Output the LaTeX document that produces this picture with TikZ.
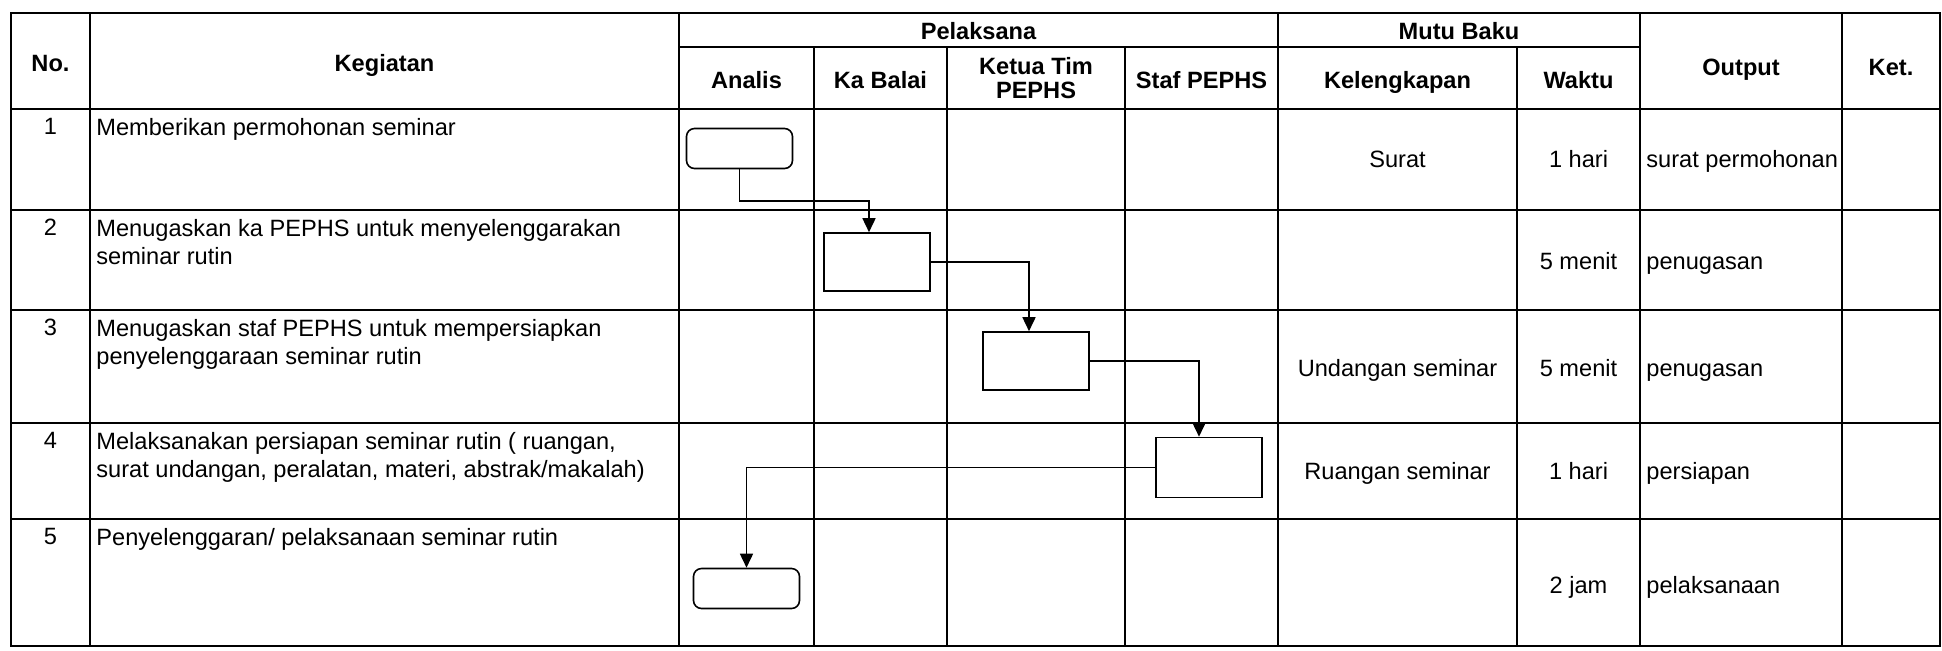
\documentclass[tikz,border=0pt]{standalone}
\usepackage{fontspec}
\setmainfont{Liberation Sans}
\usepackage{tikz}
\usetikzlibrary{arrows,arrows.meta,calc}

\begin{document}
\begin{tikzpicture}[x=0.5pt, y=-0.5pt, >={Triangle[length=7pt,width=6.5pt]}, font=\fontsize{11.8}{14.2}\selectfont]
\tikzstyle{every node}=[inner sep=0pt]
\tikzstyle{hdr}=[font=\fontsize{11.8}{14.2}\selectfont\bfseries, anchor=base]
\tikzstyle{txt}=[anchor=base]
\tikzstyle{ltxt}=[anchor=base west]
\tikzstyle{keg}=[anchor=north west, align=left]
\tikzstyle{proc}=[draw, line width=0.8pt, minimum width=53pt, minimum height=29pt]
\tikzstyle{terminal}=[proc, rounded corners=4pt, minimum height=20pt]
\tikzstyle{flow}=[->, line width=0.8pt]
\tikzstyle{tabline}=[line width=1.3pt]
\useasboundingbox (0,0) rectangle (1942,650);

% table
\draw[tabline] (11,13) rectangle (1940,646);
\foreach \y in {109,210,310,423,519} \draw[tabline] (11,\y) -- (1940,\y);
\draw[tabline] (679,47) -- (1640,47);
\foreach \x in {90,679,1278,1640,1842} \draw[tabline] (\x,13) -- (\x,646);
\foreach \x in {814,947,1125,1517} \draw[tabline] (\x,47) -- (\x,646);

% header
\node[hdr] (hno)   at (50.5,71)   {No.};
\node[hdr] (hkeg)  at (384.5,71)  {Kegiatan};
\node[hdr] (hpel)  at (978.5,39)  {Pelaksana};
\node[hdr] (hmutu) at (1459,39)   {Mutu Baku};
\node[hdr] (han)   at (746.5,88) {Analis};
\node[hdr] (hka)   at (880.5,88) {Ka Balai};
\node[hdr, anchor=center, align=center] (hketua) at (1036,78) {Ketua Tim\\[-2.6pt]PEPHS};
\node[hdr] (hstaf) at (1201.5,88) {Staf PEPHS};
\node[hdr] (hkel)  at (1397.5,88) {Kelengkapan};
\node[hdr] (hwak)  at (1578.5,88) {Waktu};
\node[hdr] (hout)  at (1741,75.5) {Output};
\node[hdr] (hket)  at (1891,75.5) {Ket.};

% row 1
\node[txt]  (no1)  at (50.5,134.5) {1};
\node[keg]  (keg1) at (96,117.5)   {Memberikan permohonan seminar};
\node[txt]  (kel1) at (1397.5,167.5) {Surat};
\node[txt]  (wak1) at (1578.5,167.5) {1 hari};
\node[ltxt] (out1) at (1646,167.5) {surat permohonan};
% row 2
\node[txt]  (no2)  at (50.5,235.5) {2};
\node[keg]  (keg2) at (96,218.5)   {Menugaskan ka PEPHS untuk menyelenggarakan\\seminar rutin};
\node[txt]  (wak2) at (1578.5,269.5) {5 menit};
\node[ltxt] (out2) at (1646,269.5) {penugasan};
% row 3
\node[txt]  (no3)  at (50.5,335.5) {3};
\node[keg]  (keg3) at (96,318.5)   {Menugaskan staf PEPHS untuk mempersiapkan\\penyelenggaraan seminar rutin};
\node[txt]  (kel3) at (1397.5,376.5) {Undangan seminar};
\node[txt]  (wak3) at (1578.5,376.5) {5 menit};
\node[ltxt] (out3) at (1646,376.5) {penugasan};
% row 4
\node[txt]  (no4)  at (50.5,448.5) {4};
\node[keg]  (keg4) at (96,431.5)   {Melaksanakan persiapan seminar rutin ( ruangan,\\surat undangan, peralatan, materi, abstrak/makalah)};
\node[txt]  (kel4) at (1397.5,479.5) {Ruangan seminar};
\node[txt]  (wak4) at (1578.5,479.5) {1 hari};
\node[ltxt] (out4) at (1646,479.5) {persiapan};
% row 5
\node[txt]  (no5)  at (50.5,544.5) {5};
\node[keg]  (keg5) at (96,527.5)   {Penyelenggaran/ pelaksanaan seminar rutin};
\node[txt]  (wak5) at (1578.5,593.5) {2 jam};
\node[ltxt] (out5) at (1646,593.5) {pelaksanaan};

% flow boxes
\node[terminal] (b1) at (739.5,148.5) {};
\node[proc]     (b2) at (877,262)     {};
\node[proc]     (b3) at (1036,361)    {};
\node[proc, minimum height=30pt] (b4) at (1209,467.5) {};
\node[terminal] (b5) at (746.5,588.5) {};

\draw[flow] (b1.south) |- ($(b1.south)!.5!(b2.north)$) -| ([xshift=-4pt]b2.north);
\draw[flow] (b2.east) -| ([xshift=-3.5pt]b3.north);
\draw[flow] (b3.east) -| ([xshift=-5pt]b4.north);
\draw[flow] (b4.west) -| (b5.north);
\end{tikzpicture}
\end{document}
